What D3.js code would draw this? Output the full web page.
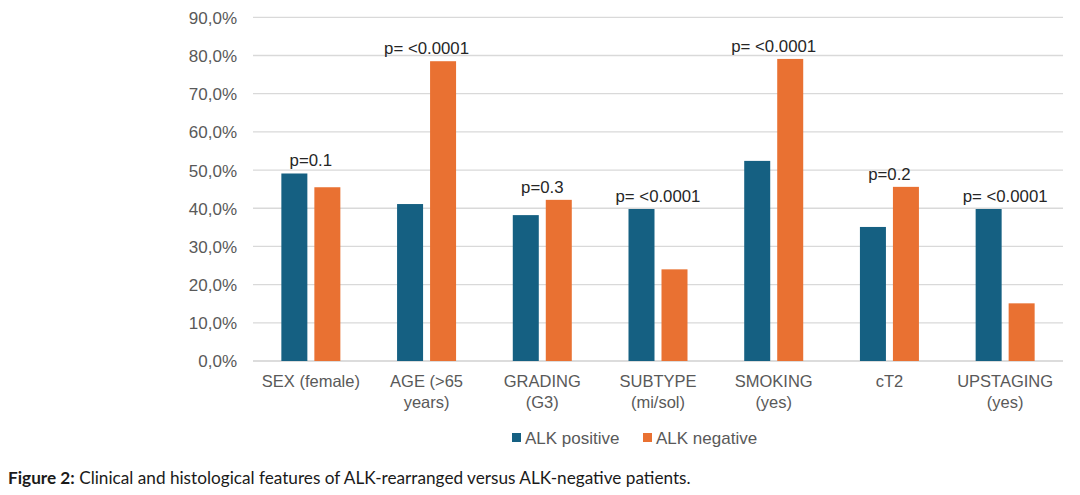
<!DOCTYPE html>
<html><head><meta charset="utf-8">
<script src="https://cdn.jsdelivr.net/npm/d3@7"></script>
<style>body{margin:0;background:#fff}svg{display:block}</style>
</head><body>
<svg id="c" width="1080" height="495"></svg>
<script>
const categories = [["SEX (female)"],["AGE (>65","years)"],["GRADING","(G3)"],["SUBTYPE","(mi/sol)"],["SMOKING","(yes)"],["cT2"],["UPSTAGING","(yes)"]];
const alkPositive = [49.1, 41.1, 38.2, 39.8, 52.4, 35.1, 39.8];
const alkNegative = [45.5, 78.5, 42.2, 24.0, 79.1, 45.6, 15.1];
const pValues = ["p=0.1","p= <0.0001","p=0.3","p= <0.0001","p= <0.0001","p=0.2","p= <0.0001"];
const yTicks = [0,10,20,30,40,50,60,70,80,90];
const seriesNames = ["ALK positive","ALK negative"];
const colors = ["#156082","#E97132"];

const svg = d3.select("#c");
const L = 253, R = 1063, T = 17.3, B = 361;
const x = d3.scaleBand().domain(d3.range(categories.length)).range([L,R]);
const y = d3.scaleLinear().domain([0,90]).range([B,T]);
const font = "'Liberation Sans', Arial, sans-serif";
const grey = "#595959";

// gridlines
svg.append("g").selectAll("line").data(yTicks).join("line")
  .attr("x1",L).attr("x2",R).attr("y1",d=>y(d)).attr("y2",d=>y(d))
  .attr("stroke",d=>d===0?"#D0D0D0":"#D9D9D9").attr("stroke-width",1.3);

// y axis labels
const yAxis = d3.axisLeft(y).tickValues(yTicks).tickSize(0).tickPadding(0)
  .tickFormat(d=>d3.format(".1f")(d).replace(".",",")+"%");
const ga = svg.append("g").attr("transform",`translate(237,0)`).call(yAxis);
ga.select(".domain").remove();
ga.selectAll("text").attr("font-family",font).attr("font-size",17).attr("fill",grey).attr("dy","0.35em");

const bw = 26, gap = 7;
const series = [alkPositive, alkNegative];
series.forEach((vals,si)=>{
  svg.append("g").selectAll("rect").data(vals).join("rect")
    .attr("x",(d,i)=>x(i)+x.bandwidth()/2 + (si===0 ? -gap/2-bw : gap/2))
    .attr("width",bw)
    .attr("y",d=>y(d)).attr("height",d=>B-y(d))
    .attr("fill",colors[si]);
});

// p labels
svg.append("g").selectAll("text").data(pValues).join("text")
  .attr("x",(d,i)=>x(i)+x.bandwidth()/2)
  .attr("y",(d,i)=>y(Math.max(alkPositive[i],alkNegative[i]))-7)
  .attr("text-anchor","middle").attr("font-family",font).attr("font-size",16.8).attr("fill","#262626")
  .text(d=>d);

// category labels
const gc = svg.append("g");
categories.forEach((lines,i)=>{
  const t = gc.append("text").attr("x",x(i)+x.bandwidth()/2).attr("y",387)
    .attr("text-anchor","middle").attr("font-family",font).attr("font-size",16.5).attr("fill",grey);
  lines.forEach((ln,j)=>t.append("tspan").attr("x",x(i)+x.bandwidth()/2).attr("dy",j===0?0:21).text(ln));
});

// legend
const lg = svg.append("g");
const lx = [512, 643];
seriesNames.forEach((n,i)=>{
  lg.append("rect").attr("x",lx[i]).attr("y",433).attr("width",9).attr("height",9).attr("fill",colors[i]);
  lg.append("text").attr("x",lx[i]+13).attr("y",443.5).attr("font-family",font).attr("font-size",17).attr("fill",grey).text(n);
});

// caption
const cap = svg.append("text").attr("x",8).attr("y",484).attr("font-family","Lato, sans-serif").attr("font-size",17.2).attr("fill","#1a1a1a");
cap.append("tspan").attr("font-weight","bold").text("Figure 2:");
cap.append("tspan").text(" Clinical and histological features of ALK-rearranged versus ALK-negative patients.");
</script>
</body></html>
